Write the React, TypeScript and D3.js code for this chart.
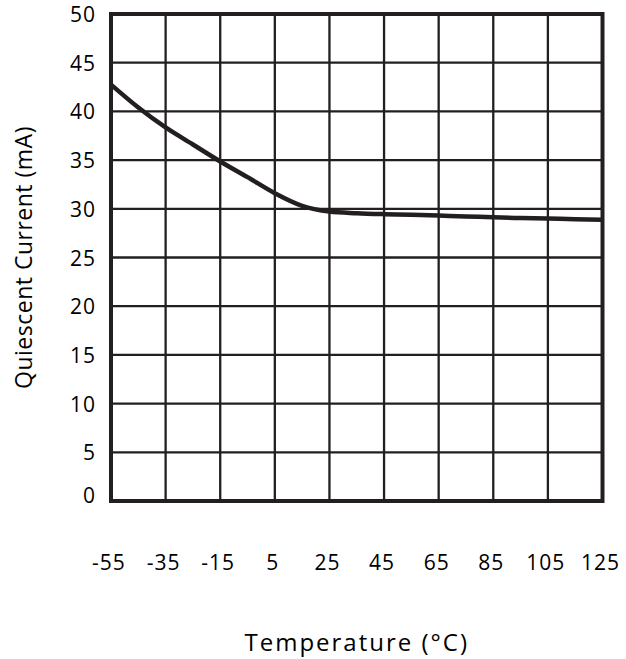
import React from "react";
import * as d3 from "d3";

// Temperature (°C) sample points and quiescent current (mA)
const temperatures = [-55, -45, -35, -25, -15, -5, 5, 15, 25, 35, 45, 55, 65, 75, 85, 95, 105, 115, 125];
const currents = [42.75, 40.4, 38.35, 36.6, 34.86, 33.25, 31.6, 30.3, 29.72, 29.55, 29.45, 29.38, 29.3, 29.22, 29.12, 29.05, 29.0, 28.93, 28.87];

const xTicks = [-55, -35, -15, 5, 25, 45, 65, 85, 105, 125];
const yTicks = [0, 5, 10, 15, 20, 25, 30, 35, 40, 45, 50];

const W = 626;
const H = 659;
const M = { left: 111, right: 23.5, top: 14, bottom: 158 };
const INK = "#231f20";
const FONT = "'Open Sans', sans-serif";

export default function App() {
  const x = d3.scaleLinear().domain([-55, 125]).range([M.left, W - M.right]);
  const y = d3.scaleLinear().domain([0, 50]).range([H - M.bottom, M.top]);

  const line = d3
    .line<number>()
    .x((_, i) => x(temperatures[i]))
    .y((d) => y(d))
    .curve(d3.curveMonotoneX);

  const [x0, x1] = x.range();
  const [y0, y1] = y.range();

  return (
    <svg
      width={W}
      height={H}
      style={{ position: "absolute", left: 0, top: 0, background: "#fff" }}
      fontFamily={FONT}
    >
      {/* grid */}
      <g stroke={INK} strokeWidth={2.3}>
        {xTicks.slice(1, -1).map((t) => (
          <line key={"gx" + t} x1={x(t)} x2={x(t)} y1={y1} y2={y0} />
        ))}
        {yTicks.slice(1, -1).map((t) => (
          <line key={"gy" + t} x1={x0} x2={x1} y1={y(t)} y2={y(t)} />
        ))}
      </g>

      {/* curve */}
      <path d={line(currents) ?? ""} fill="none" stroke={INK} strokeWidth={4.5} strokeLinejoin="round" />

      {/* frame */}
      <rect x={x0} y={y1} width={x1 - x0} height={y0 - y1} fill="none" stroke={INK} strokeWidth={4} />

      {/* y tick labels */}
      <g fontSize={21} letterSpacing={1} fill="#000" textAnchor="end">
        {yTicks.map((t) => (
          <text key={"yl" + t} x={96} y={t === 0 ? y(t) - 6 : y(t)} dominantBaseline="central">
            {t}
          </text>
        ))}
      </g>

      {/* x tick labels */}
      <g fontSize={21} letterSpacing={1} fill="#000" textAnchor="middle">
        {xTicks.map((t) => (
          <text key={"xl" + t} x={x(t) - 2} y={562} dominantBaseline="central">
            {t}
          </text>
        ))}
      </g>

      {/* axis titles */}
      <text
        x={(x0 + x1) / 2}
        y={641}
        fontSize={24}
        letterSpacing={2}
        textAnchor="middle"
        dominantBaseline="central"
        fill="#000"
      >
        Temperature (°C)
      </text>
      <text
        transform={`translate(23, ${(y0 + y1) / 2}) rotate(-90)`}
        fontSize={23}
        letterSpacing={0.5}
        textAnchor="middle"
        dominantBaseline="central"
        fill="#000"
      >
        Quiescent Current (mA)
      </text>
    </svg>
  );
}
